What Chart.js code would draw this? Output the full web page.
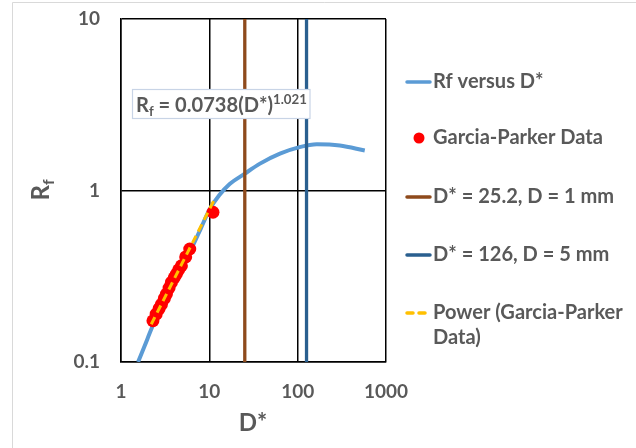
<!DOCTYPE html>
<html><head><meta charset="utf-8">
<script src="https://cdn.jsdelivr.net/npm/chart.js@4"></script>
<style>html,body{margin:0;padding:0;background:#fff;}#wrap{position:relative;width:636px;height:448px;}</style>
</head><body><div id="wrap"><canvas id="c" width="636" height="448"></canvas></div>
<script>
// ---- data ----
const xTickValues = [1, 10, 100, 1000];
const yTickValues = [0.1, 1, 10];
const curveD  = [1.56, 1.85, 2.2, 2.6, 3.2, 4, 5, 6.3, 8, 10, 13, 17, 25, 37, 63, 105, 165, 300, 575];
const curveRf = [0.1, 0.124, 0.155, 0.19, 0.24, 0.3, 0.37, 0.46, 0.6, 0.77, 0.94, 1.09, 1.25, 1.43, 1.64, 1.79, 1.86, 1.83, 1.71];
const gpD  = [2.3, 2.5, 2.7, 2.87, 3.1, 3.27, 3.5, 3.72, 4.0, 4.24, 4.5, 4.83, 5.4, 6.0, 11.0];
const gpRf = [0.174, 0.19, 0.205, 0.217, 0.235, 0.249, 0.27, 0.291, 0.31, 0.326, 0.345, 0.364, 0.41, 0.456, 0.747];
const fitD  = [2.2, 11.3];
const fitRf = [0.166, 0.877];
const line1D = 25.2;
const line2D = 126;
const seriesNames = ['Rf versus D*', 'Garcia-Parker Data', 'D* = 25.2, D = 1 mm', 'D* = 126, D = 5 mm', 'Power (Garcia-Parker Data)'];
const equationParts = [['R',''],['f','sub'],[' = 0.0738(D*)',''],['1.021','sup']];
const xTitle = 'D*';
const yTitle = [['R',''],['f','sub']];

// ---- styles ----
const FAM = 'Lato, "Liberation Sans", sans-serif';
const TXT = '#595959';
const colors = ['#5B9BD5', '#FF0000', '#8E4A1C', '#2A5F8F', '#FFC000'];

const pts = (xs, ys) => xs.map((x, i) => ({x, y: ys[i]}));
const yMin = yTickValues[0], yMax = yTickValues[yTickValues.length - 1];

const datasets = [
  {label: seriesNames[0], data: pts(curveD, curveRf), showLine: true, borderColor: colors[0], borderWidth: 4, pointRadius: 0, cubicInterpolationMode: 'monotone', order: 5},
  {label: seriesNames[1], data: pts(gpD, gpRf), showLine: false, backgroundColor: colors[1], borderColor: colors[1], borderWidth: 0, pointRadius: 6.5, order: 4},
  {label: seriesNames[2], data: [{x: line1D, y: yMin}, {x: line1D, y: yMax}], showLine: true, borderColor: colors[2], borderWidth: 3.3, pointRadius: 0, order: 3},
  {label: seriesNames[3], data: [{x: line2D, y: yMin}, {x: line2D, y: yMax}], showLine: true, borderColor: colors[3], borderWidth: 3.3, pointRadius: 0, order: 2},
  {label: seriesNames[4], data: pts(fitD, fitRf), showLine: true, borderColor: colors[4], borderWidth: 3, borderDash: [8, 5], pointRadius: 0, order: 1}
];

function richWidth(ctx, parts, S) {
  let w = 0;
  for (const [t, k] of parts) { ctx.font = `bold ${k ? S * 0.66 : S}px ${FAM}`; w += ctx.measureText(t).width; }
  return w;
}
function drawRich(ctx, parts, x, base, S) {
  for (const [t, k] of parts) {
    const s = k ? S * 0.66 : S;
    ctx.font = `bold ${s}px ${FAM}`;
    const dy = k === 'sub' ? S * 0.22 : (k === 'sup' ? -S * 0.38 : 0);
    ctx.fillText(t, x, base + dy);
    x += ctx.measureText(t).width;
  }
}

const overlay = {
  id: 'overlay',
  beforeDraw(chart) {
    const ctx = chart.ctx; ctx.save();
    ctx.fillStyle = '#fff'; ctx.fillRect(0, 0, chart.width, chart.height);
    ctx.strokeStyle = '#D9D9D9'; ctx.lineWidth = 1;
    ctx.beginPath(); ctx.moveTo(12.5, chart.height); ctx.lineTo(12.5, 2.5); ctx.lineTo(chart.width, 2.5); ctx.stroke();
    ctx.restore();
  },
  afterDraw(chart) {
    const ctx = chart.ctx; ctx.save();
    ctx.fillStyle = TXT; ctx.textBaseline = 'alphabetic'; ctx.textAlign = 'left';
    // equation label
    const eS = 100 * 171 / richWidth(ctx, equationParts, 100);
    ctx.fillStyle = '#fff'; ctx.strokeStyle = '#C8D4E6'; ctx.lineWidth = 1.2;
    ctx.fillRect(132.5, 89.5, 177.5, 29); ctx.strokeRect(132.5, 89.5, 177.5, 29);
    ctx.fillStyle = TXT;
    drawRich(ctx, equationParts, 136, 112, eS);
    // axis titles
    ctx.font = `bold 24px ${FAM}`; ctx.textAlign = 'center'; ctx.textBaseline = 'middle';
    ctx.fillText(xTitle, 253, 423);
    ctx.save(); ctx.translate(41, 190); ctx.rotate(-Math.PI / 2);
    ctx.textAlign = 'left'; ctx.textBaseline = 'alphabetic';
    const yw = richWidth(ctx, yTitle, 24);
    drawRich(ctx, yTitle, -yw / 2, 8, 24);
    ctx.restore();
    // legend
    ctx.textAlign = 'left'; ctx.textBaseline = 'middle';
    ctx.font = `bold 100px ${FAM}`;
    const lS = 100 * 170 / ctx.measureText(seriesNames[1]).width;
    ctx.font = `bold ${lS}px ${FAM}`;
    const rows = [[82, [seriesNames[0]]], [138, [seriesNames[1]]], [197, [seriesNames[2]]], [255, [seriesNames[3]]], [313, ['Power (Garcia-Parker', 'Data)']]];
    rows.forEach(([y, lines], i) => {
      const c = colors[i];
      if (i === 1) {
        ctx.fillStyle = c; ctx.beginPath(); ctx.arc(419, y, 5.5, 0, Math.PI * 2); ctx.fill();
      } else {
        ctx.strokeStyle = c; ctx.lineWidth = 3.5; ctx.lineCap = 'round';
        ctx.setLineDash(i === 4 ? [6, 6] : []);
        ctx.beginPath(); ctx.moveTo(407, y); ctx.lineTo(430, y); ctx.stroke();
        ctx.setLineDash([]);
      }
      ctx.fillStyle = TXT;
      lines.forEach((t, j) => ctx.fillText(t, 433, y + j * 25));
    });
    ctx.restore();
  }
};

const tickFont = {family: FAM, weight: 'bold', size: 19};
new Chart(document.getElementById('c'), {
  type: 'scatter',
  data: {datasets},
  options: {
    responsive: false, animation: false, devicePixelRatio: 1,
    layout: {padding: {left: 0, right: 250, top: 19, bottom: 0}},
    plugins: {legend: {display: false}, tooltip: {enabled: false}},
    scales: {
      x: {
        type: 'logarithmic', min: xTickValues[0], max: xTickValues[xTickValues.length - 1],
        afterBuildTicks: s => { s.ticks = xTickValues.map(v => ({value: v})); },
        afterFit: s => { s.height = 86; s.paddingLeft = 0; s.paddingRight = 0; },
        ticks: {callback: v => String(v), font: tickFont, color: TXT, padding: 18, maxRotation: 0, autoSkip: false},
        grid: {color: '#000', lineWidth: 1.5, drawTicks: false},
        border: {color: '#000', width: 1.5}
      },
      y: {
        type: 'logarithmic', min: yMin, max: yMax,
        afterBuildTicks: s => { s.ticks = yTickValues.map(v => ({value: v})); },
        afterFit: s => { s.width = 121; s.paddingTop = 0; s.paddingBottom = 0; },
        ticks: {callback: v => String(v), font: tickFont, color: TXT, padding: 21, autoSkip: false},
        grid: {color: '#000', lineWidth: 1.5, drawTicks: false},
        border: {color: '#000', width: 1.5}
      }
    }
  },
  plugins: [overlay]
});
</script></body></html>
